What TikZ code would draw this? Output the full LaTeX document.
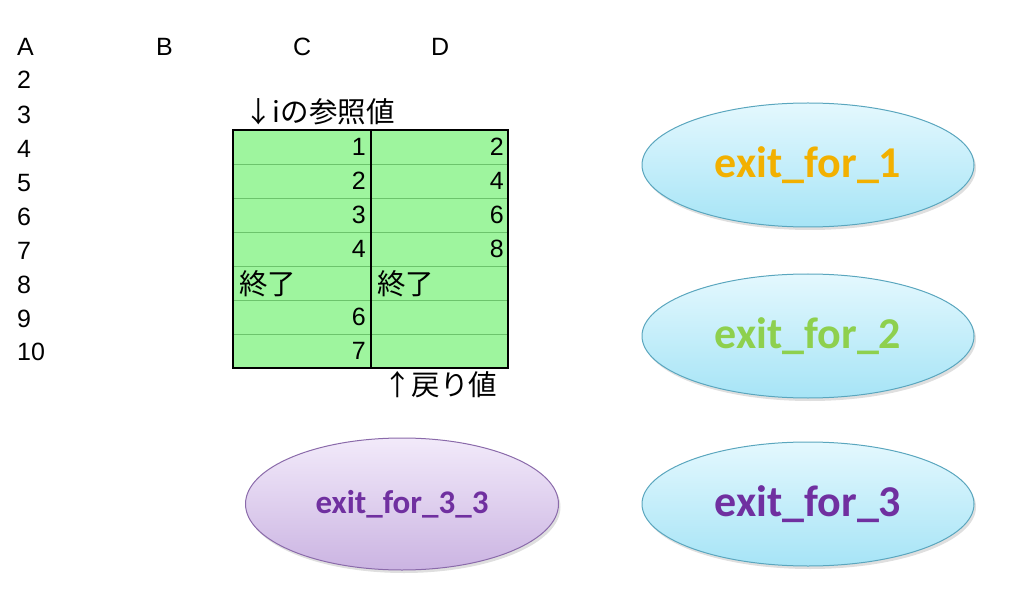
\documentclass[tikz,border=0pt]{standalone}
\usepackage{fontspec}
\setmainfont{Liberation Sans}
\newfontfamily\jpfont{Noto Sans CJK JP}
\newfontfamily\calfont{Carlito}
\usetikzlibrary{shapes.geometric,shadows}
\definecolor{cellgreen}{HTML}{9EF59E}
\definecolor{gridgreen}{HTML}{6CC46C}
\definecolor{cyanborder}{HTML}{5AA6BE}
\definecolor{cyantop}{HTML}{E4F8FE}
\definecolor{cyanbot}{HTML}{A6E4F6}
\definecolor{purpborder}{HTML}{8A6AAA}
\definecolor{purptop}{HTML}{F2EAFA}
\definecolor{purpbot}{HTML}{CBB4E2}
\definecolor{txtorange}{HTML}{F2B000}
\definecolor{txtgreen}{HTML}{8ED04E}
\definecolor{txtpurple}{HTML}{7030A0}
\tikzset{
  lbl/.style={font=\fontsize{25}{25}\selectfont, inner sep=0pt, anchor=west},
  num/.style={font=\fontsize{25}{25}\selectfont, inner sep=0pt, anchor=east},
  jp/.style={font=\jpfont\fontsize{28.5}{28.5}\selectfont, inner sep=0pt, anchor=west},
  cyanell/.style={ellipse, draw=cyanborder, line width=1pt, top color=cyantop, bottom color=cyanbot,
    minimum width=332pt, minimum height=124pt, inner sep=0pt,
    drop shadow={shadow xshift=2pt, shadow yshift=-3pt, opacity=0.25}},
  purpell/.style={ellipse, draw=purpborder, line width=1pt, top color=purptop, bottom color=purpbot,
    minimum width=313pt, minimum height=132pt, inner sep=0pt,
    drop shadow={shadow xshift=2pt, shadow yshift=-3pt, opacity=0.25}},
  bigtxt/.style={font=\calfont\bfseries\fontsize{44}{44}\selectfont},
}
\begin{document}
\begin{tikzpicture}[x=1pt,y=-1pt]
\useasboundingbox (0,0) rectangle (1024,593);
% header labels
\node[lbl] (hA) at (17,47) {A};
\node[lbl] (hB) at (156,47) {B};
\node[lbl] (hC) at (293,47) {C};
\node[lbl] (hD) at (431,47) {D};
\node[lbl] (r2) at (17,80) {2};
\node[lbl] (r3) at (17,115) {3};
\node[lbl] (r4) at (17,149) {4};
\node[lbl] (r5) at (17,183) {5};
\node[lbl] (r6) at (17,217) {6};
\node[lbl] (r7) at (17,251) {7};
\node[lbl] (r8) at (17,285) {8};
\node[lbl] (r9) at (17,319) {9};
\node[lbl] (r10) at (17,352) {10};
% table
\fill[cellgreen] (233,130) rectangle (508,368);
\foreach \yy in {164,198,232,266,300,334} {
  \draw[gridgreen, line width=0.8pt] (233,\yy) -- (508,\yy);
}
\draw[black, line width=2pt] (233,130) rectangle (508,368);
\draw[black, line width=2pt] (371,130) -- (371,368);
% column C
\node[num] (c1) at (366,147) {1};
\node[num] (c2) at (366,181) {2};
\node[num] (c3) at (366,215) {3};
\node[num] (c4) at (366,249) {4};
\node[jp] (c5) at (239,284) {終了};
\node[num] (c6) at (366,317) {6};
\node[num] (c7) at (366,351) {7};
% column D
\node[num] (d1) at (504,147) {2};
\node[num] (d2) at (504,181) {4};
\node[num] (d3) at (504,215) {6};
\node[num] (d4) at (504,249) {8};
\node[jp] (d5) at (377,284) {終了};
% annotations
\node[jp] (top) at (244,112) {↓iの参照値};
\node[jp] (bot) at (383,385) {↑戻り値};
% ellipses
\node[cyanell] (e1) at (808,165) {};
\node[bigtxt, text=txtorange] (t1) at (e1) {exit\_for\_1};
\node[cyanell] (e2) at (808,336) {};
\node[bigtxt, text=txtgreen] (t2) at (e2) {exit\_for\_2};
\node[cyanell] (e3) at (808,504) {};
\node[bigtxt, text=txtpurple] (t3) at (e3) {exit\_for\_3};
\node[purpell] (e4) at (402,504) {};
\node[font=\calfont\bfseries\fontsize{33}{33}\selectfont, text=txtpurple] (t4) at (e4) {exit\_for\_3\_3};
\end{tikzpicture}
\end{document}
